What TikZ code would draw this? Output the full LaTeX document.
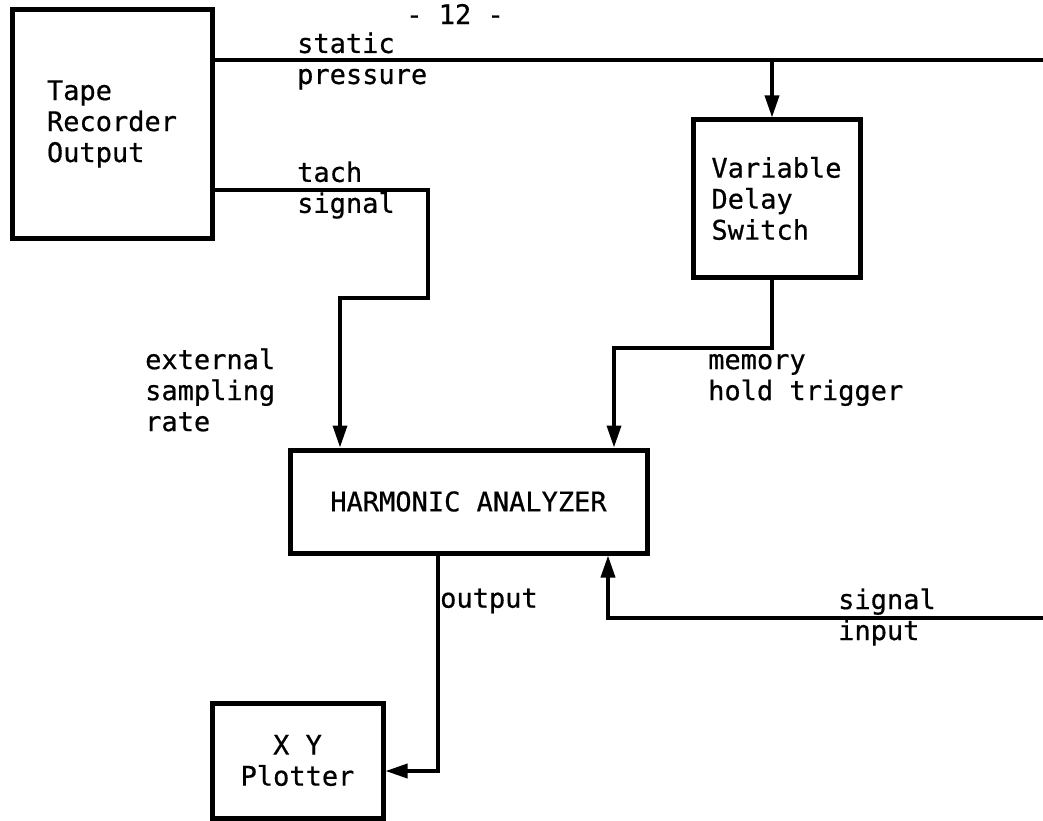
\documentclass[tikz,border=0pt]{standalone}
\usepackage{fontspec}
\newfontfamily\tw[FakeBold=0.6]{DejaVu Sans Mono}
\usetikzlibrary{arrows.meta,calc}
\begin{document}
\begin{tikzpicture}[x=1pt,y=-1pt,
  box/.style={draw, line width=5pt, inner sep=0pt, align=left},
  lbl/.style={inner sep=0pt, align=left, anchor=west},
  conn/.style={line width=3.5pt},
  arr/.style={conn, -{Triangle[length=22pt,width=14pt]}},
  every node/.style={font=\tw\fontsize{27}{31}\selectfont}]
\useasboundingbox (0,0) rectangle (1043,821);
% boxes
\node[box, minimum width=200pt, minimum height=228pt] (tape) at (112,124) {Tape\\Recorder\\Output};
\node[box, minimum width=167pt, minimum height=157pt] (vds) at (776.5,198.5) {Variable\\Delay\\Switch};
\node[box, minimum width=357pt, minimum height=103pt] (ha) at (468.5,501.5) {HARMONIC ANALYZER};
\node[box, minimum width=171pt, minimum height=115pt, align=center] (xy) at (297.5,760.5) {X Y\\Plotter};
% coordinates
\coordinate (spR) at (1043,60);
\coordinate (t1) at (428,190);
\coordinate (t2) at (428,298);
\coordinate (t3) at (340,298);
\coordinate (m1) at (772,348);
\coordinate (m2) at (614,348);
\coordinate (o1) at (438,771);
\coordinate (s1) at (1043,618);
\coordinate (s2) at (608,618);
% connectors
\draw[conn] (tape.east |- spR) -- (spR);
\draw[arr] (m1 |- spR) -- (m1 |- vds.north);
\draw[arr] (tape.east |- t1) -- (t1) -- (t2) -- (t3) -- (t3 |- ha.north);
\draw[arr] (m1 |- vds.south) -- (m1) -- (m2) -- (m2 |- ha.north);
\draw[arr] (o1 |- ha.south) -- (o1) -- (o1 -| xy.east);
\draw[arr] (s1) -- (s2) -- (s2 |- ha.south);
% labels
\node[lbl] (lsp) at (297,61) {static\\pressure};
\node[lbl] (ltach) at (297,190) {tach\\signal};
\node[lbl] (lext) at (145,390) {external\\sampling\\rate};
\node[lbl] (lmem) at (708,380) {memory\\hold trigger};
\node[lbl] (lout) at (440,601) {output};
\node[lbl] (lsig) at (838,617) {signal\\input};
\node[inner sep=0pt] (page) at (455,14) {- 12 -};
\end{tikzpicture}
\end{document}
